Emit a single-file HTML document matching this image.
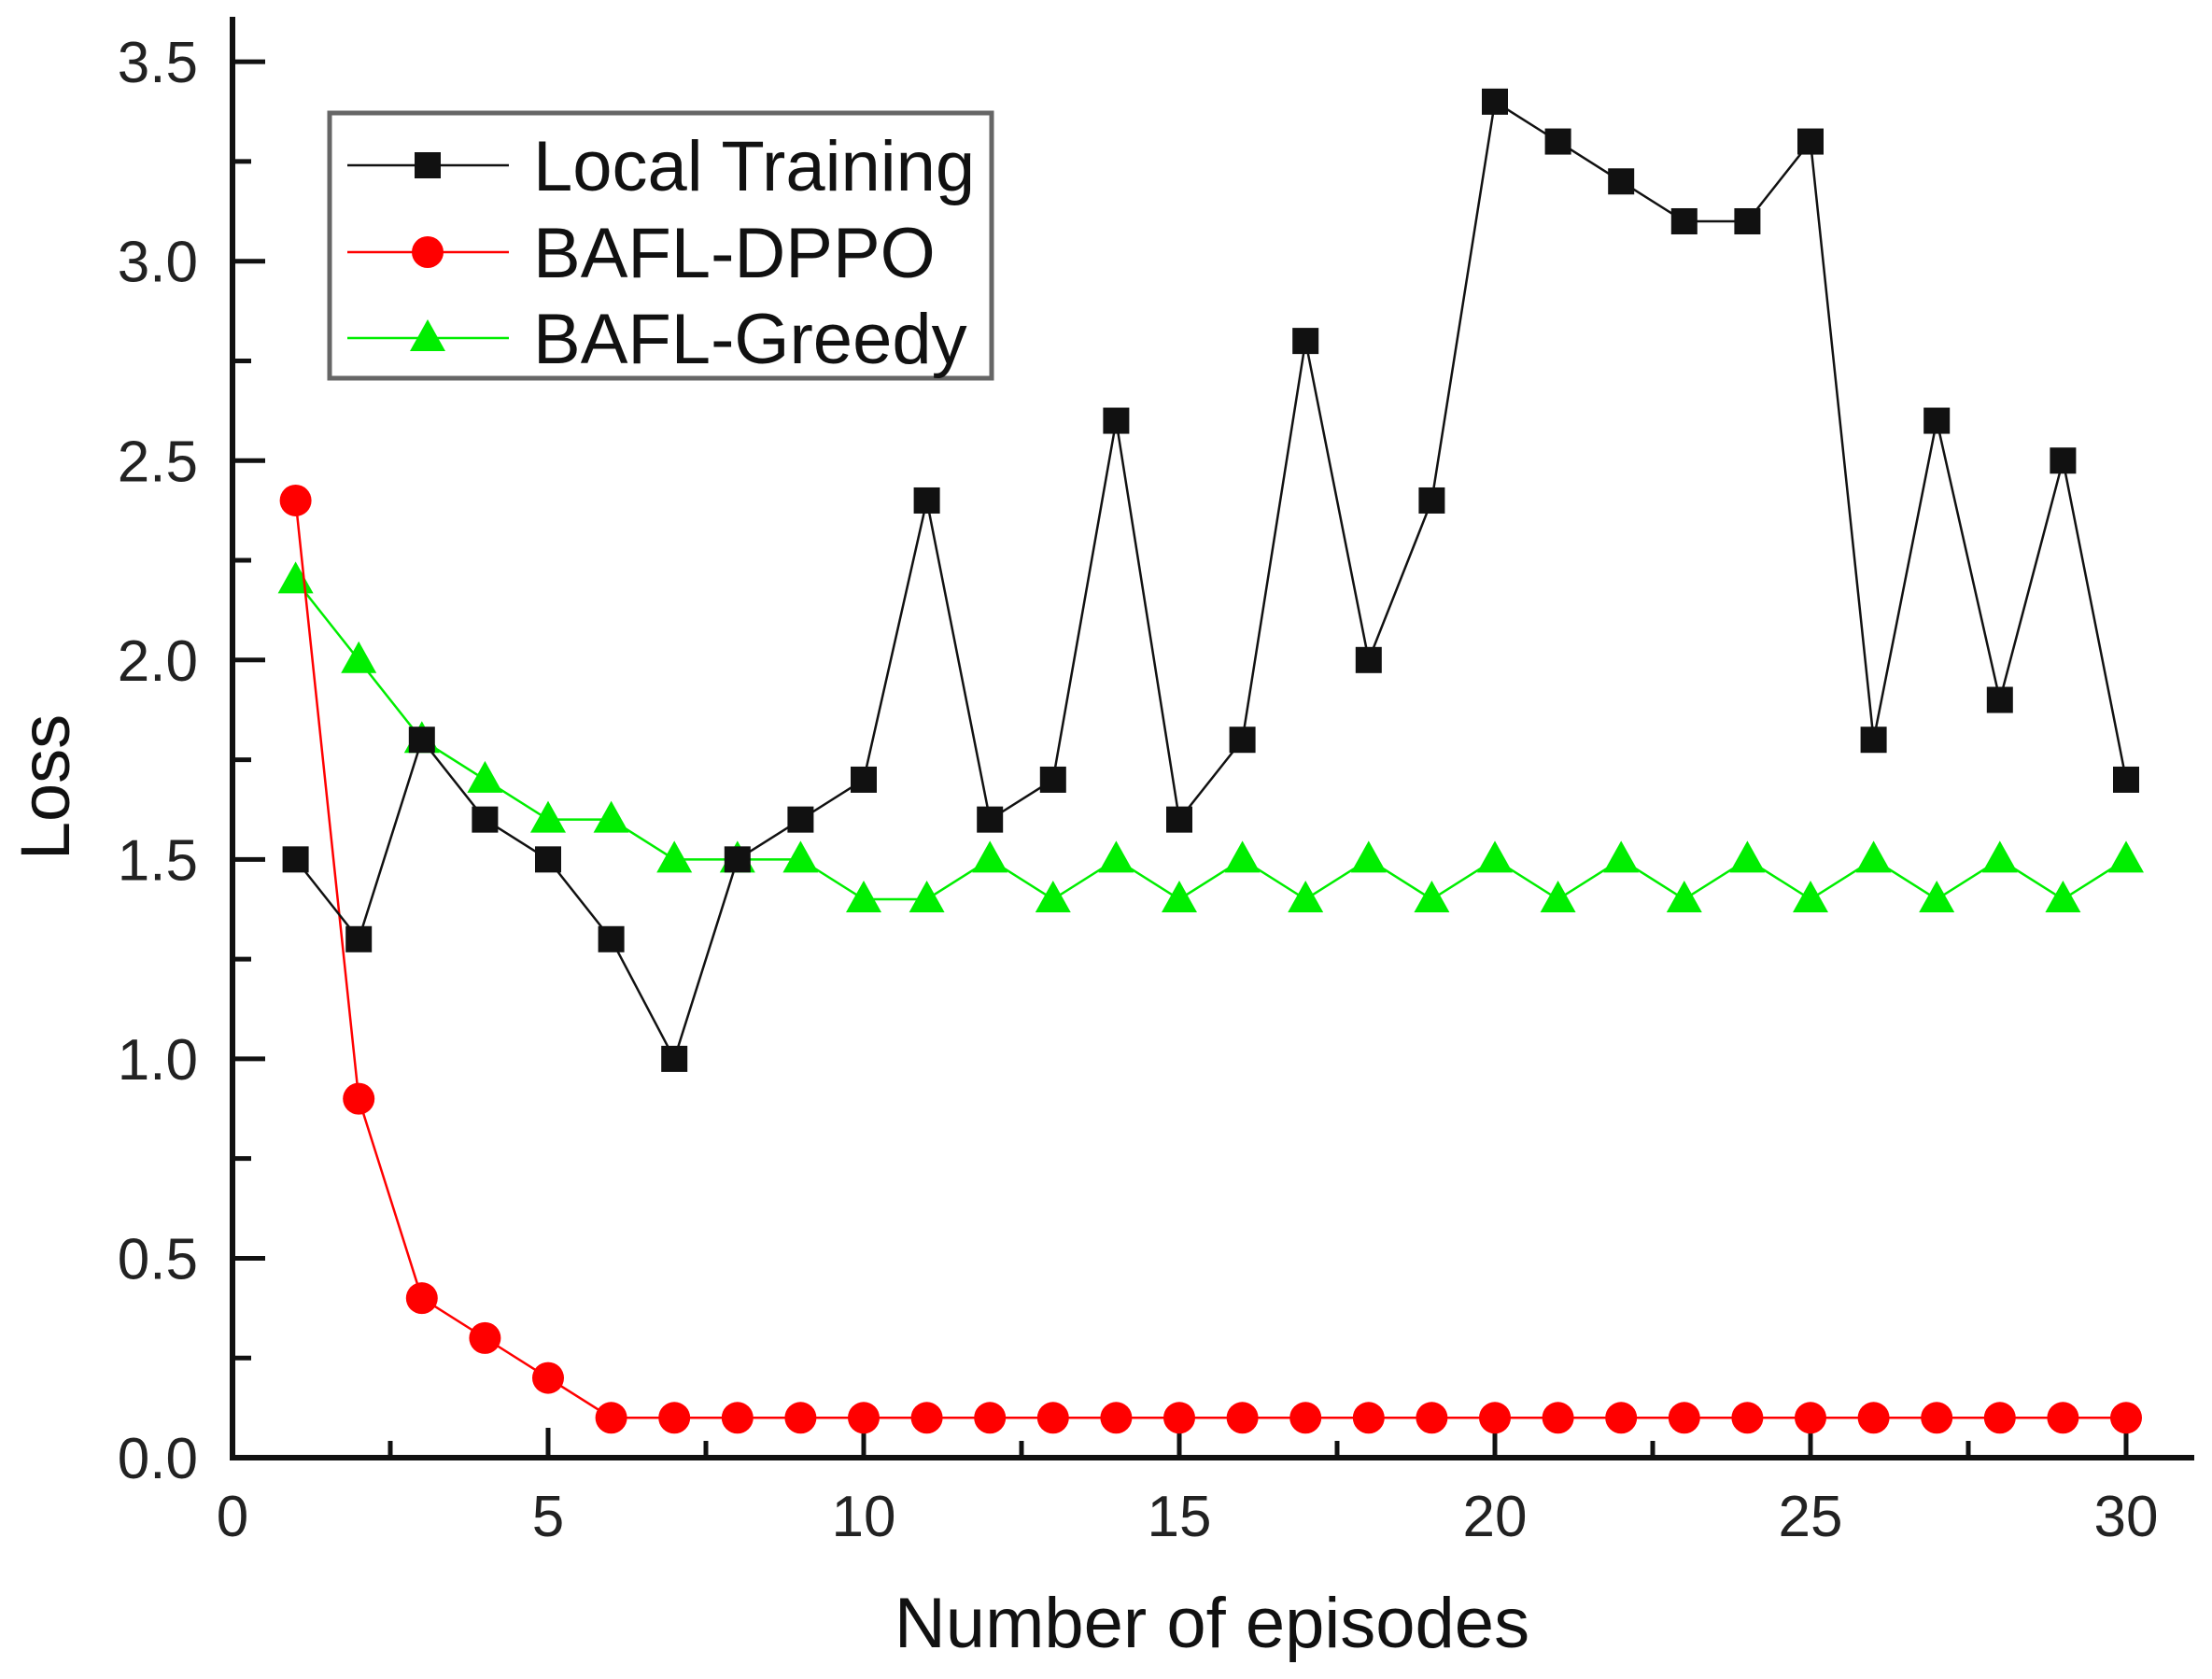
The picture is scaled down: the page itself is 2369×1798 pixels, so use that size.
<!DOCTYPE html>
<html><head><meta charset="utf-8"><style>
html,body{margin:0;padding:0;background:#fff;}
svg{display:block;font-family:"Liberation Sans",Arial,sans-serif;}
</style></head><body>
<svg id="chart" width="2369" height="1798" viewBox="0 0 2369 1798" xmlns="http://www.w3.org/2000/svg">
<g id="axes"></g>
<g id="series"></g>
<g id="legend">
<rect x="353" y="121" width="709" height="284" fill="#fff" stroke="#666" stroke-width="5"/>
</g>
<text x="1298" y="1764" font-size="76" text-anchor="middle" fill="#111">Number of episodes</text>
<text transform="translate(74,843) rotate(-90)" font-size="74" text-anchor="middle" fill="#111">Loss</text>
</svg>
<script>
const episodes = [1,2,3,4,5,6,7,8,9,10,11,12,13,14,15,16,17,18,19,20,21,22,23,24,25,26,27,28,29,30];
const localTraining = [1.5,1.3,1.8,1.6,1.5,1.3,1.0,1.5,1.6,1.7,2.4,1.6,1.7,2.6,1.6,1.8,2.8,2.0,2.4,3.4,3.3,3.2,3.1,3.1,3.3,1.8,2.6,1.9,2.5,1.7];
const baflDppo = [2.4,0.9,0.4,0.3,0.2,0.1,0.1,0.1,0.1,0.1,0.1,0.1,0.1,0.1,0.1,0.1,0.1,0.1,0.1,0.1,0.1,0.1,0.1,0.1,0.1,0.1,0.1,0.1,0.1,0.1];
const baflGreedy = [2.2,2.0,1.8,1.7,1.6,1.6,1.5,1.5,1.5,1.4,1.4,1.5,1.4,1.5,1.4,1.5,1.4,1.5,1.4,1.5,1.4,1.5,1.4,1.5,1.4,1.5,1.4,1.5,1.4,1.5];
const xTicks = [0,5,10,15,20,25,30];
const yTicks = [0.0,0.5,1.0,1.5,2.0,2.5,3.0,3.5];
const seriesNames = ["Local Training","BAFL-DPPO","BAFL-Greedy"];

const NS="http://www.w3.org/2000/svg";
const X0=249, XS=67.6, Y0=1561, YS=427.1;
const xS=v=>X0+v*XS, yS=v=>Y0-v*YS;
function mk(tag,attrs,parent){const e=document.createElementNS(NS,tag);for(const k in attrs)e.setAttribute(k,attrs[k]);parent.appendChild(e);return e;}
const axes=document.getElementById('axes');
const ser=document.getElementById('series');
const leg=document.getElementById('legend');

let e=mk('line',{x1:X0,y1:18,x2:X0,y2:Y0+3,stroke:'#111','stroke-width':6},axes);


e=mk('line',{x1:X0-3,y1:Y0,x2:2350,y2:Y0,stroke:'#111','stroke-width':6},axes);



for(let v=0;v<=30.01;v+=2.5){const maj=Math.abs(v%5)<0.01;
 e=mk('line',{x1:xS(v),y1:Y0,x2:xS(v),y2:Y0-(maj?32:18),stroke:'#111','stroke-width':5},axes);
 
 }
xTicks.forEach(v=>{e=mk('text',{x:xS(v),y:1645,'font-size':62,'text-anchor':'middle',fill:'#222'},axes);e.textContent=String(v);
 
 });
for(let v=0;v<=3.501;v+=0.25){const maj=Math.abs((v*2)%1)<0.01;
 e=mk('line',{x1:X0,y1:yS(v),x2:X0+(maj?35:20),y2:yS(v),stroke:'#111','stroke-width':5},axes);
 
 }
yTicks.forEach(v=>{e=mk('text',{x:212,y:yS(v)+22,'font-size':62,'text-anchor':'end',fill:'#222'},axes);e.textContent=v.toFixed(1);
 
 });

function marker(type,cx,cy,color,parent){let m;
 if(type==='sq') m=mk('rect',{x:cx-14,y:cy-14,width:28,height:28,fill:color},parent);
 else if(type==='ci') m=mk('circle',{cx:cx,cy:cy,r:17,fill:color},parent);
 else m=mk('polygon',{points:`${cx},${cy-20} ${cx-19},${cy+14} ${cx+19},${cy+14}`,fill:color},parent);
 return m;}
const defs=[[localTraining,'#111','sq','local-training'],[baflDppo,'#ff0000','ci','bafl-dppo'],[baflGreedy,'#00ee00','tr','bafl-greedy']];
[2,1,0].forEach(i=>{const [data,col,mt,nm]=defs[i];
 const g=mk('g',{},ser);
 
 
 const pts=data.map((v,j)=>xS(episodes[j])+','+yS(v)).join(' ');
 const l=mk('polyline',{points:pts,fill:'none',stroke:col,'stroke-width':2.5},g);
 
 
 data.forEach((v,j)=>{const m=marker(mt,xS(episodes[j]),yS(v),col,g);
  
  });
});
const ly=[177,270,362];
defs.forEach((d,i)=>{const [,col,mt,nm]=d;
 const g=mk('g',{},leg);
 
 
 mk('line',{x1:372,y1:ly[i],x2:545,y2:ly[i],stroke:col,'stroke-width':2.5},g);
 marker(mt,458,ly[i],col,g);
 const t=mk('text',{x:571,y:ly[i]+27,'font-size':76,fill:'#111'},g);t.textContent=seriesNames[i];
});
</script>
</body></html>
